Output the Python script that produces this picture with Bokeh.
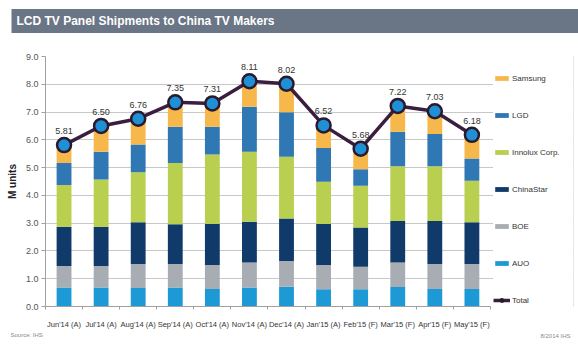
from bokeh.plotting import figure
from bokeh.models import (ColumnDataSource, Legend, LegendItem, Label, Range1d,
                          FixedTicker, NumeralTickFormatter)
from bokeh.core.properties import value
from bokeh.embed import file_html
from bokeh.resources import INLINE

categories = ["Jun'14 (A)", "Jul'14 (A)", "Aug'14 (A)", "Sep'14 (A)", "Oct'14 (A)", "Nov'14 (A)",
              "Dec'14 (A)", "Jan'15 (A)", "Feb'15 (F)", "Mar'15 (F)", "Apr'15 (F)", "May'15 (F)"]
auo       = [0.68, 0.68, 0.67, 0.68, 0.63, 0.68, 0.71, 0.62, 0.62, 0.70, 0.63, 0.63]
boe       = [0.78, 0.78, 0.86, 0.85, 0.86, 0.90, 0.93, 0.87, 0.81, 0.88, 0.90, 0.90]
chinastar = [1.41, 1.41, 1.50, 1.43, 1.48, 1.47, 1.53, 1.48, 1.41, 1.50, 1.55, 1.50]
innolux   = [1.50, 1.70, 1.80, 2.21, 2.50, 2.52, 2.22, 1.52, 1.51, 1.97, 1.97, 1.50]
lgd       = [0.80, 1.00, 1.00, 1.30, 1.00, 1.62, 1.60, 1.22, 0.59, 1.24, 1.16, 0.80]
samsung   = [0.64, 0.93, 0.93, 0.88, 0.84, 0.92, 1.03, 0.81, 0.74, 0.93, 0.82, 0.85]
total     = [5.81, 6.50, 6.76, 7.35, 7.31, 8.11, 8.02, 6.52, 5.68, 7.22, 7.03, 6.18]
y_ticks   = [0, 1, 2, 3, 4, 5, 6, 7, 8, 9]

series_keys = ["auo", "boe", "chinastar", "innolux", "lgd", "samsung"]
series_names = ["AUO", "BOE", "ChinaStar", "Innolux Corp.", "LGD", "Samsung"]
colors = ["#1d9ad6", "#a7adb2", "#0f3a69", "#b8cf4f", "#2f78b4", "#f7b84b"]

FONT = "Liberation Sans"
xs = list(range(len(categories)))

source = ColumnDataSource(dict(
    x=xs, cat=categories, auo=auo, boe=boe, chinastar=chinastar, innolux=innolux,
    lgd=lgd, samsung=samsung, total=total,
    total_label=["%.2f" % t for t in total],
))

# frame extends to the right so the legend can live inside it
p = figure(x_range=Range1d(-0.5, 13.74), y_range=(0, 9), width=578, height=353,
           output_backend="svg", toolbar_location=None,
           min_border_left=45, min_border_right=5, min_border_top=56, min_border_bottom=47)
p.outline_line_color = None
p.background_fill_color = "white"
p.border_fill_color = "white"
p.styles = {"outline": "1px solid #9a9a9a", "outline-offset": "-5px"}

bars = p.vbar_stack(series_keys, x="x", width=0.4, color=colors, source=source,
                    line_color=None)
line = p.line(x="x", y="total", source=source, line_color="#3a1d3f", line_width=3.5)
pts = p.scatter(x="x", y="total", source=source, size=14, marker="circle",
                fill_color="#1f8fd6", line_color="#2a1a30", line_width=2.5)
p.text(x="x", y="total", text="total_label", source=source, text_align="center",
       text_baseline="bottom", y_offset=-11, text_font_size="9px",
       text_font=value(FONT), text_color="#333333")

# axes
p.xgrid.grid_line_color = None
p.ygrid.grid_line_color = "#c8c8c8"
p.yaxis.ticker = FixedTicker(ticks=y_ticks)
p.yaxis.formatter = NumeralTickFormatter(format="0.0")
p.yaxis.axis_line_color = "#a0a0a0"
p.yaxis.major_tick_line_color = "#a0a0a0"
p.yaxis.major_tick_out = 4
p.yaxis.major_tick_in = 0
p.yaxis.minor_tick_line_color = None
p.yaxis.major_label_text_font = FONT
p.yaxis.major_label_text_font_size = "9px"
p.yaxis.major_label_text_color = "#555555"
p.yaxis.major_label_standoff = 3
p.yaxis.axis_label = "M units"
p.yaxis.axis_label_text_font = FONT
p.yaxis.axis_label_text_font_size = "10px"
p.yaxis.axis_label_text_font_style = "bold"
p.yaxis.axis_label_text_color = "#222222"
p.yaxis.axis_label_standoff = 5

p.xaxis.ticker = FixedTicker(ticks=xs, minor_ticks=[i - 0.5 for i in range(len(xs) + 1)])
p.xaxis.major_label_overrides = {i: c for i, c in zip(xs, categories)}
p.xaxis.bounds = (-0.5, len(xs) - 0.5)
p.xaxis.axis_line_color = "#a0a0a0"
p.xaxis.major_tick_line_color = None
p.xaxis.minor_tick_line_color = "#a0a0a0"
p.xaxis.minor_tick_out = 3
p.xaxis.minor_tick_in = 0
p.xaxis.major_label_text_font = FONT
p.xaxis.major_label_text_font_size = "7.5px"
p.xaxis.major_label_text_color = "#333333"
p.xaxis.major_label_standoff = 7

# legend (white background hides grid lines to the right of the bars)
items = [LegendItem(label=series_names[i], renderers=[bars[i]]) for i in range(5, -1, -1)]
items.append(LegendItem(label="Total", renderers=[line, pts]))
legend = Legend(items=items, location=(448, 0), orientation="vertical",
                glyph_width=17, glyph_height=6, label_height=12, label_width=70,
                spacing=25, padding=16, margin=0, label_standoff=2,
                label_text_font=FONT, label_text_font_size="8px",
                label_text_color="#333333", background_fill_color="white",
                background_fill_alpha=1, border_line_color=None)
p.add_layout(legend)

# title bar (above panel; screen units from panel bottom-left)
p.add_layout(Label(x=-34, y=35.5, x_units="screen", y_units="screen",
                   text="LCD TV Panel Shipments to China TV Makers",
                   text_font=FONT, text_font_size="12px", text_font_style="bold",
                   text_color="white", text_baseline="middle",
                   padding=dict(left=5, right=304, top=5, bottom=5),
                   background_fill_color="#6a7585"), "above")
p.add_layout(Label(x=-35, y=3, x_units="screen", y_units="screen",
                   text="Source: IHS", text_font=FONT, text_font_size="6px",
                   text_color="#888888", text_baseline="middle"), "below")
p.add_layout(Label(x=525, y=8, x_units="screen", y_units="screen",
                   text="8/2014 IHS", text_font=FONT, text_font_size="6px",
                   text_color="#888888", text_baseline="middle", text_align="right"), "below")

open("out.html", "w").write(file_html(p, INLINE))
